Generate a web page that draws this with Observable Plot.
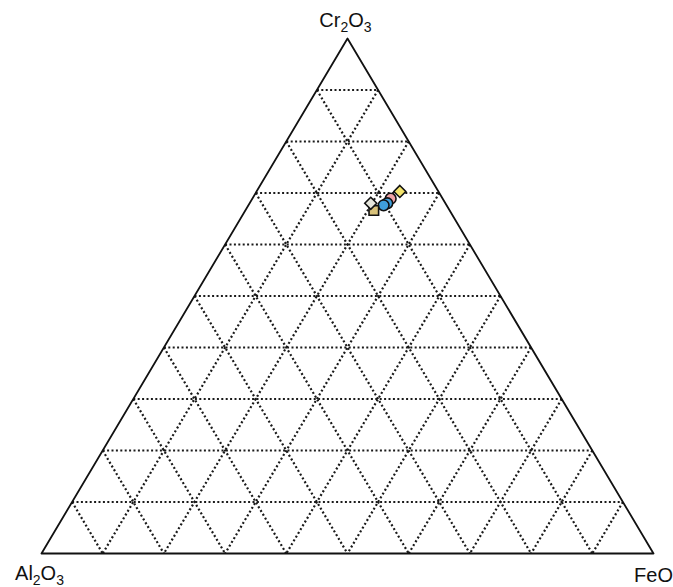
<!DOCTYPE html>
<html>
<head>
<meta charset="utf-8">
<script src="https://cdn.jsdelivr.net/npm/d3@7"></script>
<script src="https://cdn.jsdelivr.net/npm/@observablehq/plot@0.6"></script>
<style>
  html, body { margin: 0; padding: 0; background: #fff; }
  #chart svg { display: block; }
</style>
</head>
<body>
<div id="chart"></div>
<script>
// Ternary vertices (component names)
const vertexLabels = ["Al2O3", "Cr2O3", "FeO"];
// Grid levels (fractions)
const gridLevels = [0.1, 0.2, 0.3, 0.4, 0.5, 0.6, 0.7, 0.8, 0.9];

// Sample compositions (fractions of Al2O3, Cr2O3, FeO)
const sampleIds  = ["S1", "S2", "S3", "S4", "S5", "S6"];
const alValues   = [0.063, 0.085, 0.095, 0.103, 0.124, 0.122];
const crValues   = [0.703, 0.689, 0.680, 0.676, 0.666, 0.680];
const feValues   = [0.234, 0.226, 0.225, 0.221, 0.210, 0.198];
const fillColors = ["#f3e36b", "#f2a3a6", "#3f9fdc", "#3f9fdc", "#d9c27a", "#e6e6dc"];
const symbols    = ["diamond2", "circle", "circle", "circle", "square", "diamond2"];

// ternary -> cartesian (x = Fe + Cr/2, y = Cr)
const tx = (al, cr, fe) => (fe + cr / 2) / (al + cr + fe);
const ty = (al, cr, fe) => cr / (al + cr + fe);

const samples = sampleIds.map((id, i) => ({
  id, fill: fillColors[i], symbol: symbols[i],
  x: tx(alValues[i], crValues[i], feValues[i]),
  y: ty(alValues[i], crValues[i], feValues[i])
}));

// triangle outline
const outline = [[1,0,0],[0,1,0],[0,0,1],[1,0,0]].map(([a,c,f]) => ({x: tx(a,c,f), y: ty(a,c,f)}));

// grid lines: constant Cr, constant Al, constant Fe
const grid = [];
for (const v of gridLevels) {
  grid.push({p: [1 - v, v, 0], q: [0, v, 1 - v]});
  grid.push({p: [v, 1 - v, 0], q: [v, 0, 1 - v]});
  grid.push({p: [0, 1 - v, v], q: [1 - v, 0, v]});
}
const gridLinks = grid.map(({p, q}) => ({
  x1: tx(...p), y1: ty(...p), x2: tx(...q), y2: ty(...q)
}));

const labels = [
  {name: vertexLabels[0], x: tx(1,0,0), y: ty(1,0,0), dx: -2, dy: 20},
  {name: vertexLabels[1], x: tx(0,1,0), y: ty(0,1,0), dx: -2, dy: -18},
  {name: vertexLabels[2], x: tx(0,0,1), y: ty(0,0,1), dx: 0,  dy: 22}
];

const plot = Plot.plot({
  width: 673,
  height: 587,
  marginLeft: 41,
  marginRight: 20,
  marginTop: 38,
  marginBottom: 34,
  x: {domain: [0, 1], axis: null},
  y: {domain: [0, 1], axis: null},
  style: {fontFamily: "'Liberation Sans', Arial, sans-serif", background: "#fff"},
  marks: [
    Plot.link(gridLinks, {
      x1: "x1", y1: "y1", x2: "x2", y2: "y2",
      stroke: "#1a1a1a", strokeWidth: 2.2, strokeDasharray: "2,2.4"
    }),
    Plot.line(outline, {x: "x", y: "y", stroke: "#111", strokeWidth: 1.8}),
    Plot.dot(samples, {
      x: "x", y: "y", r: 5.4, symbol: "symbol", fill: "fill",
      stroke: "#111", strokeWidth: 1.6
    }),
    ...labels.map(l => Plot.text([l], {
      x: "x", y: "y", text: "name", dx: l.dx, dy: l.dy,
      fontSize: 20, fill: "#111", className: "vlabel"
    }))
  ]
});

// render subscripts for digits in the vertex labels
d3.select(plot).selectAll("[class^='vlabel'] text").each(function () {
  const t = d3.select(this);
  const s = t.text();
  t.text(null);
  let sub = false;
  for (const ch of s) {
    const isDigit = /[0-9]/.test(ch);
    const ts = t.append("tspan").text(ch);
    if (isDigit && !sub) { ts.attr("dy", "5").attr("font-size", "14"); sub = true; }
    else if (isDigit && sub) { ts.attr("font-size", "14"); }
    else if (!isDigit && sub) { ts.attr("dy", "-5"); sub = false; }
  }
});

document.getElementById("chart").append(plot);
</script>
</body>
</html>
